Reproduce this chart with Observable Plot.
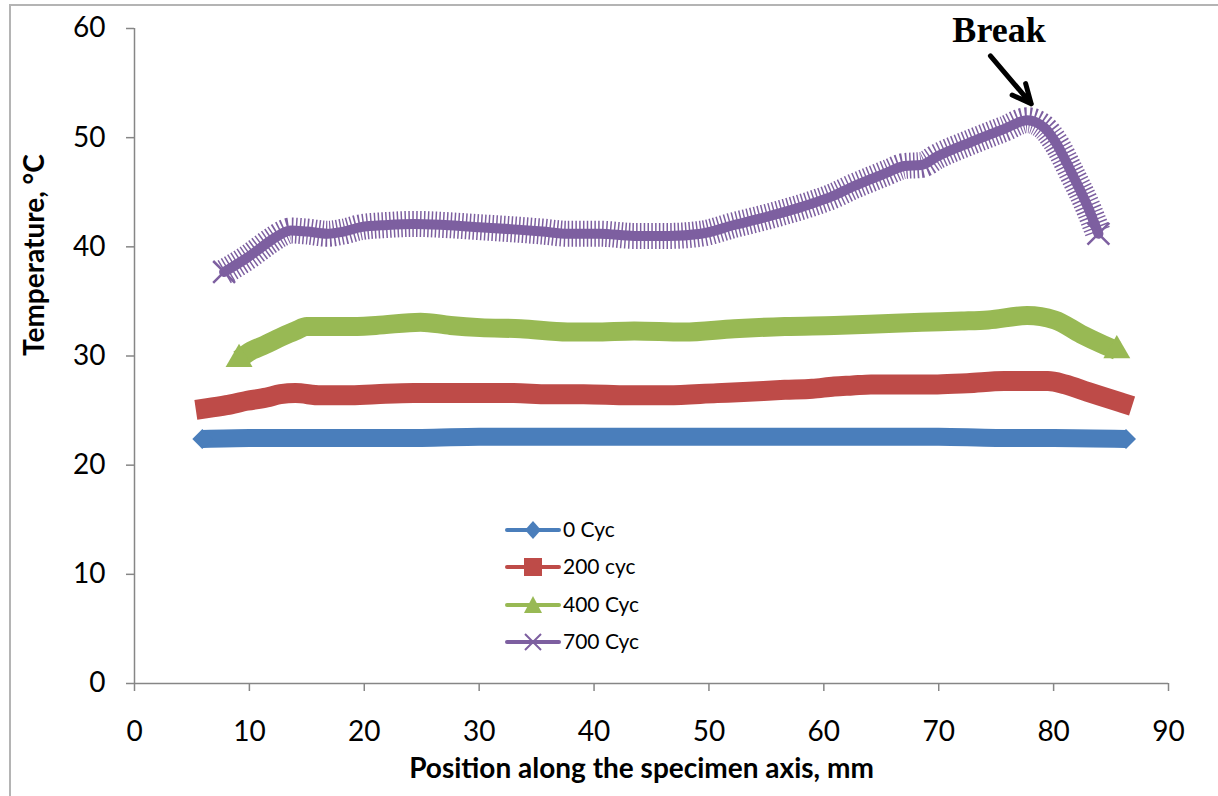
<!DOCTYPE html>
<html>
<head>
<meta charset="utf-8">
<script src="https://cdn.jsdelivr.net/npm/d3@7"></script>
<script src="https://cdn.jsdelivr.net/npm/@observablehq/plot@0.6"></script>
<style>
  html, body { margin: 0; padding: 0; background: #fff; }
  #wrap { position: relative; width: 1218px; height: 796px; overflow: hidden; font-family: Lato, "Open Sans", sans-serif; }
  #border { position: absolute; left: 9px; top: 4px; width: 1400px; height: 1000px; border-left: 2px solid #b4b4b4; border-top: 2px solid #b4b4b4; pointer-events: none; }
  #legend { position: absolute; left: 500px; top: 510px; }
</style>
</head>
<body>
<div id="wrap"><div id="border"></div></div>
<script>
// ---- data ----
const seriesNames = ["0 Cyc", "200 cyc", "400 Cyc", "700 Cyc"];
const seriesColors = ["#4A7EBB", "#BE4B48", "#98B954", "#7D5FA0"];

const pos0 = [5.9, 10, 15, 20, 25, 30, 35, 40, 45, 50, 55, 60, 65, 70, 75, 80, 86.3];
const temp0 = [22.4, 22.5, 22.5, 22.5, 22.5, 22.6, 22.6, 22.6, 22.6, 22.6, 22.6, 22.6, 22.6, 22.6, 22.5, 22.5, 22.4];

const pos200 = [6.2, 8, 9.8, 11.5, 12.7, 14, 16.2, 18.5, 21, 24.3, 28.7, 33, 36, 39.1, 43, 46.4, 50.7, 53, 56.6, 59, 60.9, 62.5, 64.1, 67, 69.9, 72.5, 75.7, 79.5, 81, 83, 84.5, 86];
const temp200 = [25.2, 25.5, 25.9, 26.2, 26.5, 26.6, 26.4, 26.4, 26.5, 26.6, 26.6, 26.6, 26.5, 26.5, 26.4, 26.4, 26.6, 26.7, 26.9, 27.0, 27.2, 27.3, 27.4, 27.4, 27.4, 27.5, 27.7, 27.7, 27.4, 26.7, 26.2, 25.7];

const pos400 = [9.1, 10.2, 11.3, 12.7, 14, 15, 18.5, 21, 24.9, 27.5, 30.1, 33.6, 37.7, 40, 43.5, 47.8, 52.2, 56.6, 60.9, 64, 68.5, 72, 74.3, 77.7, 80.1, 82.4, 84.4, 85.5];
const temp400 = [29.7, 30.5, 31.0, 31.7, 32.3, 32.7, 32.7, 32.8, 33.1, 32.8, 32.6, 32.5, 32.2, 32.2, 32.3, 32.2, 32.5, 32.7, 32.8, 32.9, 33.1, 33.2, 33.3, 33.7, 33.3, 32.0, 31.0, 30.5];

const pos700 = [7.8, 9.8, 11.9, 12.8, 13.6, 15, 16.8, 18.2, 19.7, 22, 24.3, 27, 30, 33, 35.5, 37.7, 40.5, 43.5, 46.5, 49.3, 52.2, 54.5, 56.6, 58.8, 60.9, 62.5, 64.1, 65.5, 67, 68.5, 69.9, 72.8, 75.7, 77.7, 79.2, 80.1, 81.6, 83, 83.9];
const temp700 = [37.7, 39.0, 40.6, 41.2, 41.5, 41.4, 41.2, 41.4, 41.8, 42.0, 42.1, 42.0, 41.8, 41.6, 41.4, 41.2, 41.2, 41.0, 41.0, 41.2, 42.0, 42.6, 43.2, 43.9, 44.7, 45.5, 46.2, 46.8, 47.4, 47.5, 48.3, 49.6, 50.8, 51.6, 50.9, 49.7, 46.7, 43.6, 41.2];

const xTicks = [0, 10, 20, 30, 40, 50, 60, 70, 80, 90];
const yTicks = [0, 10, 20, 30, 40, 50, 60];
const xTitle = "Position along the specimen axis, mm";
const yTitle = "Temperature, °C";
const breakLabel = {text: "Break", x: 75.25, y: 59.8};
const breakArrow = {x1: 74.5, y1: 57.5, x2: 78.05, y2: 53.1};

// ---- tables ----
const toRows = (xs, ys) => xs.map((x, i) => ({x, y: ys[i]}));
const s0 = toRows(pos0, temp0);
const s200 = toRows(pos200, temp200);
const s400 = toRows(pos400, temp400);
const s700 = toRows(pos700, temp700);
const ends = (rows) => [rows[0], rows[rows.length - 1]];

const [cBlue, cRed, cGreen, cPurple] = seriesColors;
const axisGrey = "#868686";

const chart = Plot.plot({
  width: 1218,
  height: 796,
  marginLeft: 134,
  marginRight: 50,
  marginTop: 28,
  marginBottom: 113,
  style: {fontFamily: "Lato, 'Open Sans', sans-serif", fontSize: "28px", background: "transparent", overflow: "visible"},
  x: {domain: [0, 90]},
  y: {domain: [0, 60]},
  marks: [
    Plot.axisX({ticks: xTicks, tickSize: 8, tickPadding: 30, stroke: axisGrey, strokeWidth: 1.5, fill: "black", fontSize: 28, label: null}),
    Plot.axisY({ticks: yTicks, tickSize: 8, tickPadding: 21, stroke: axisGrey, strokeWidth: 1.5, fill: "black", fontSize: 28, label: null}),
    Plot.ruleY([0], {stroke: axisGrey, strokeWidth: 1.5}),
    Plot.ruleX([0], {stroke: axisGrey, strokeWidth: 1.5}),
    // 0 Cyc
    Plot.line(s0, {x: "x", y: "y", stroke: cBlue, strokeWidth: 18, strokeLinecap: "butt", curve: "monotone-x"}),
    Plot.dot(ends(s0), {x: "x", y: "y", symbol: "diamond2", r: 9, fill: cBlue}),
    // 200 cyc
    Plot.line(s200, {x: "x", y: "y", stroke: cRed, strokeWidth: 20, strokeLinecap: "square", curve: "monotone-x"}),
    // 400 Cyc
    Plot.line(s400, {x: "x", y: "y", stroke: cGreen, strokeWidth: 19, strokeLinecap: "butt", curve: "monotone-x"}),
    Plot.dot(ends(s400), {x: "x", y: "y", symbol: "triangle", r: 10, fill: cGreen}),
    // 700 Cyc
    Plot.line(s700, {x: "x", y: "y", stroke: cPurple, strokeWidth: 26, strokeLinecap: "butt", strokeDasharray: "1.5,2.3", curve: "monotone-x"}),
    Plot.line(s700, {x: "x", y: "y", stroke: cPurple, strokeWidth: 10, curve: "monotone-x"}),
    Plot.dot(ends(s700), {x: "x", y: "y", symbol: "times", r: 10, stroke: cPurple, strokeWidth: 2.5}),
    // annotation
    Plot.text([breakLabel], {x: "x", y: "y", text: "text", fontFamily: "'Liberation Serif', 'Times New Roman', serif", fontWeight: "bold", fontSize: 36, fill: "black", lineAnchor: "middle"}),
    Plot.arrow([breakArrow], {x1: "x1", y1: "y1", x2: "x2", y2: "y2", stroke: "black", strokeWidth: 5, headLength: 16, headAngle: 50}),
    // axis titles
    Plot.text([xTitle], {frameAnchor: "bottom", dx: -10, dy: 86, text: d => d, fontWeight: "bold", fontSize: 28, fill: "black", lineAnchor: "middle"}),
    Plot.text([yTitle], {frameAnchor: "left", dx: -99, text: d => d, rotate: -90, fontWeight: "bold", fontSize: 28, fill: "black", lineAnchor: "middle"})
  ]
});

const wrap = document.getElementById("wrap");
chart.style.position = "absolute";
chart.style.left = "0px";
chart.style.top = "0px";
wrap.appendChild(chart);

// ---- legend (inside plot area) ----
const symbols = ["diamond", "square", "triangle", "times"];
const ns = "http://www.w3.org/2000/svg";
const leg = document.createElementNS(ns, "svg");
leg.setAttribute("id", "legend");
leg.setAttribute("width", 170);
leg.setAttribute("height", 150);
const rowY = [20, 57, 95, 132];
seriesNames.forEach((name, i) => {
  const g = document.createElementNS(ns, "g");
  g.setAttribute("transform", `translate(0,${rowY[i]})`);
  const c = seriesColors[i];
  let html = `<line x1="7" x2="59" y1="0" y2="0" stroke="${c}" stroke-width="4" stroke-linecap="round"/>`;
  if (symbols[i] === "diamond") html += `<path d="M33,-9L41,0L33,9L25,0Z" fill="${c}"/>`;
  if (symbols[i] === "square") html += `<rect x="24" y="-9" width="18" height="18" fill="${c}"/>`;
  if (symbols[i] === "triangle") html += `<path d="M33,-9L42,8L24,8Z" fill="${c}"/>`;
  if (symbols[i] === "times") html += `<path d="M25,-8L41,8M41,-8L25,8" stroke="${c}" stroke-width="2"/>`;
  html += `<text x="63" y="0" dy="0.35em" font-size="21" font-family="Lato, 'Open Sans', sans-serif" fill="black">${name}</text>`;
  g.innerHTML = html;
  leg.appendChild(g);
});
wrap.appendChild(leg);
</script>
</body>
</html>
